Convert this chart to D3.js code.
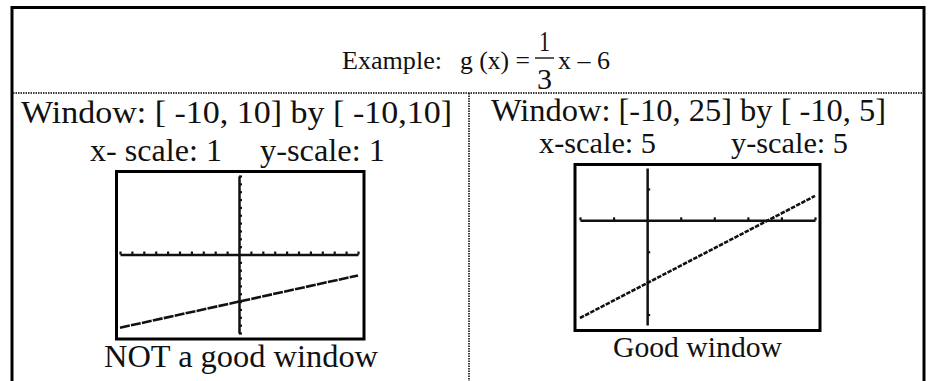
<!DOCTYPE html>
<html>
<head>
<meta charset="utf-8">
<script src="https://cdn.jsdelivr.net/npm/d3@7.9.0/dist/d3.min.js"></script>
<style>
  body { margin: 0; background: #fff; }
  svg { display: block; }
  text { font-family: "Liberation Serif", "DejaVu Serif", serif; fill: #111; }
</style>
</head>
<body>
<svg width="931" height="381"></svg>
<script>
// left window: [-10,10] by [-10,10], scale 1
const leftXDomain = [-10, 10];
const leftYDomain = [-10, 10];
const leftXTicks = [-10, -9, -8, -7, -6, -5, -4, -3, -2, -1, 1, 2, 3, 4, 5, 6, 7, 8, 9, 10];
const leftYTicks = [-10, -9, -8, -7, -6, -5, -4, -3, -2, -1, 1, 2, 3, 4, 5, 6, 7, 8, 9, 10];
const leftLineX = [-10, 10];
const leftLineY = [-9.33, -2.67];

// right window: [-10,25] by [-10,5], scale 5
const rightXDomain = [-10, 25];
const rightYDomain = [-10, 5];
const rightXTicks = [-10, -5, 5, 10, 15, 20, 25];
const rightYTicks = [3, -3, -9];
const rightLineX = [-10, 25];
const rightLineY = [-9.33, 2.33];

const svg = d3.select('svg');

// table frame
svg.append('path')
  .attr('d', 'M12,381 V7.5 H924 V381')
  .attr('fill', 'none').attr('stroke', '#000').attr('stroke-width', 3);
svg.append('line')
  .attr('x1', 13).attr('x2', 923).attr('y1', 93).attr('y2', 93)
  .attr('stroke', '#000').attr('stroke-width', 1.5).attr('stroke-dasharray', '1.5,1');
svg.append('line')
  .attr('x1', 469).attr('x2', 469).attr('y1', 93).attr('y2', 381)
  .attr('stroke', '#000').attr('stroke-width', 1.5).attr('stroke-dasharray', '1.5,1');

function label(str, x1, x2, y, size) {
  svg.append('text')
    .attr('x', x1).attr('y', y)
    .attr('font-size', size)
    .attr('textLength', x2 - x1)
    .attr('lengthAdjust', 'spacingAndGlyphs')
    .text(str);
}

// header
label('Example:', 342, 442, 69, 26);
label('g (x) =', 460, 530, 69, 26);
label('1', 539, 550, 51, 29);
label('3', 537, 552, 89, 29);
svg.append('line')
  .attr('x1', 535).attr('x2', 554).attr('y1', 58).attr('y2', 58)
  .attr('stroke', '#111').attr('stroke-width', 1.4);
label('x \u2013 6', 558, 610, 69, 26);

// left column text
label('Window:  [ -10, 10] by [ -10,10]', 21, 452, 123, 32);
label('x- scale: 1', 90, 222, 161, 31);
label('y-scale: 1', 260, 385, 161, 31);
label('NOT a good window', 104, 378, 367, 31);

// right column text
label('Window: [-10, 25]  by  [ -10, 5]', 491, 886, 121, 30.5);
label('x-scale: 5', 539, 656, 153, 29.5);
label('y-scale: 5', 731, 848, 153, 29.5);
label('Good window', 613, 782, 357, 29.5);

function screen(box, plot, xDom, yDom, xTicks, yTicks, lx, ly, dash) {
  svg.append('rect')
    .attr('x', box[0]).attr('y', box[1])
    .attr('width', box[2] - box[0]).attr('height', box[3] - box[1])
    .attr('fill', '#fff').attr('stroke', '#000').attr('stroke-width', 3);

  const x = d3.scaleLinear().domain(xDom).range([plot[0], plot[2]]);
  const y = d3.scaleLinear().domain(yDom).range([plot[3], plot[1]]);

  const xAxis = svg.append('g')
    .attr('transform', `translate(0,${y(0)})`)
    .call(d3.axisTop(x).tickValues(xTicks).tickSize(3).tickSizeOuter(0).tickFormat(''));
  const yAxis = svg.append('g')
    .attr('transform', `translate(${x(0)},0)`)
    .call(d3.axisRight(y).tickValues(yTicks).tickSize(3).tickSizeOuter(0).tickFormat(''));
  [xAxis, yAxis].forEach(g => {
    g.select('.domain').attr('stroke', '#111').attr('stroke-width', 2.5);
    g.selectAll('.tick line').attr('stroke', '#111').attr('stroke-width', 2.2);
  });

  const pts = lx.map((v, i) => [v, ly[i]]);
  svg.append('path')
    .datum(pts)
    .attr('d', d3.line().x(d => x(d[0])).y(d => y(d[1])))
    .attr('fill', 'none')
    .attr('stroke', '#111')
    .attr('stroke-width', 2.6)
    .attr('stroke-dasharray', dash);
}

screen([116.5, 171.5, 364, 339], [120, 176, 358, 333],
  leftXDomain, leftYDomain, leftXTicks, leftYTicks, leftLineX, leftLineY, '10,1.2');
screen([575, 164.5, 820, 330.5], [580, 168, 815, 325],
  rightXDomain, rightYDomain, rightXTicks, rightYTicks, rightLineX, rightLineY, '4.5,1.3');
</script>
</body>
</html>
